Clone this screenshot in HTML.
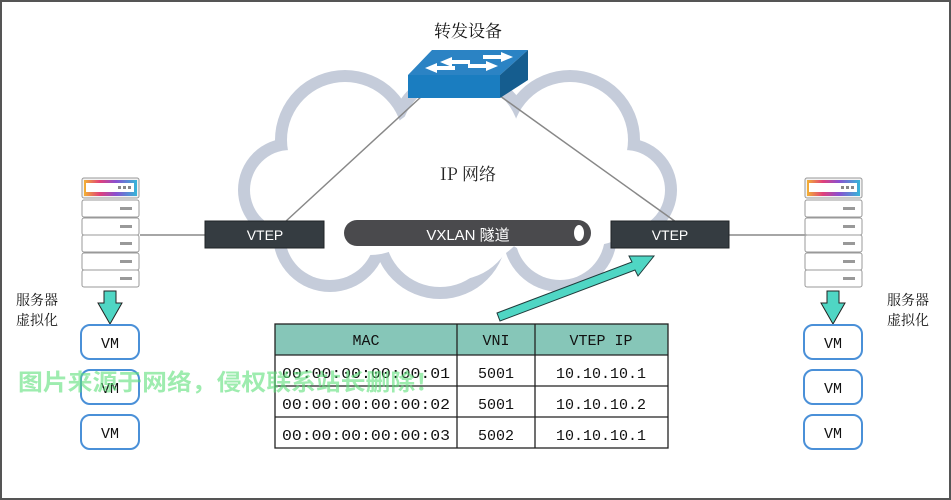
<!DOCTYPE html>
<html><head><meta charset="utf-8"><style>
body{margin:0;background:#fff}
svg{display:block}
.t{font-family:"Liberation Sans","Noto Sans CJK SC",sans-serif}
.s{font-family:"Noto Serif CJK SC","Liberation Serif",serif}
.m{font-family:"Liberation Mono","DejaVu Sans Mono",monospace}
</style></head><body>
<svg width="951" height="500" viewBox="0 0 951 500" xmlns="http://www.w3.org/2000/svg">
<rect x="1" y="1" width="949" height="498" fill="#fff" stroke="#555" stroke-width="2"/>
<!-- cloud -->
<g fill="#c5ccda">
<circle cx="345" cy="140" r="70"/><circle cx="290" cy="190" r="52"/><circle cx="330" cy="235" r="57"/>
<circle cx="440" cy="232" r="67"/><circle cx="560" cy="235" r="57"/><circle cx="625" cy="190" r="52"/>
<circle cx="570" cy="140" r="70"/><circle cx="460" cy="140" r="72"/>
</g>
<g fill="#fff">
<circle cx="345" cy="140" r="58"/><circle cx="290" cy="190" r="40"/><circle cx="330" cy="235" r="45"/>
<circle cx="440" cy="232" r="55"/><circle cx="560" cy="235" r="45"/><circle cx="625" cy="190" r="40"/>
<circle cx="570" cy="140" r="58"/><circle cx="460" cy="140" r="60"/><circle cx="455" cy="185" r="85"/>
<circle cx="370" cy="195" r="60"/><circle cx="545" cy="195" r="60"/><circle cx="455" cy="220" r="60"/>
<circle cx="320" cy="200" r="45"/><circle cx="595" cy="200" r="45"/>
</g>
<!-- lines -->
<g stroke="#888" stroke-width="1.5">
<line x1="422" y1="96" x2="285" y2="222"/><line x1="500" y1="96" x2="676" y2="222"/>
<line x1="140" y1="235" x2="205" y2="235"/><line x1="729" y1="235" x2="805" y2="235"/>
</g>
<!-- switch -->
<polygon points="408,75 432,50 528,50 500,75" fill="#2b83c4"/>
<polygon points="408,75 500,75 500,98 408,98" fill="#1a7dc0"/>
<polygon points="500,75 528,50 528,80 500,98" fill="#155d8f"/>
<g fill="#fff"><polygon points="440,62 452,57 452,60 470,60 470,64 452,64 452,67"/><polygon points="508,55 496,50 496,53 478,53 478,57 496,57 496,60" transform="translate(5,2)"/>
<polygon points="425,70 437,65 437,68 455,68 455,72 437,72 437,75" transform="translate(0,-2)"/><polygon points="498,66 486,61 486,64 468,64 468,68 486,68 486,71"/></g>
<text x="468" y="37" class="s" font-size="17" text-anchor="middle" fill="#111">转发设备</text>
<text x="468" y="180" class="s" font-size="17" text-anchor="middle" fill="#222">IP 网络</text>
<!-- VTEPs -->
<rect x="205" y="221" width="119" height="27" fill="#353c41" stroke="#1f2326"/>
<text x="265" y="240" class="t" font-size="14" fill="#fff" text-anchor="middle">VTEP</text>
<rect x="611" y="221" width="118" height="27" fill="#353c41" stroke="#1f2326"/>
<text x="670" y="240" class="t" font-size="14" fill="#fff" text-anchor="middle">VTEP</text>
<!-- tunnel -->
<rect x="344" y="220" width="247" height="26" rx="13" fill="#4a4a4d"/>
<ellipse cx="579" cy="233" rx="5" ry="8" fill="#fff"/>
<text x="468" y="240" class="t" font-size="15" fill="#fff" text-anchor="middle">VXLAN 隧道</text>
<!-- arrow to VTEP -->
<polygon points="497,313 632,262 629,256 654,256 638,276 635,270 500,321" fill="#4fd6c4" stroke="#1e3a3a" stroke-width="1"/>
<!-- servers -->
<g id="srv">
<rect x="82" y="178" width="57" height="20" rx="2" fill="#f3f3f3" stroke="#999"/>
<rect x="84" y="180" width="53" height="16" fill="url(#rb)"/>
<rect x="86" y="183" width="48" height="9" fill="#fff"/>
<g fill="#888"><rect x="118" y="186" width="3" height="3"/><rect x="123" y="186" width="3" height="3"/><rect x="128" y="186" width="3" height="3"/></g>
<g fill="#fff" stroke="#999">
<rect x="82" y="200" width="57" height="17" rx="2"/><rect x="82" y="218" width="57" height="17" rx="2"/>
<rect x="82" y="235" width="57" height="17" rx="2"/><rect x="82" y="253" width="57" height="17" rx="2"/><rect x="82" y="270" width="57" height="17" rx="2"/></g>
<g fill="#999"><rect x="120" y="207" width="12" height="3"/><rect x="120" y="225" width="12" height="3"/><rect x="120" y="242" width="12" height="3"/><rect x="120" y="260" width="12" height="3"/><rect x="120" y="277" width="12" height="3"/></g>
<polygon points="104,291 116,291 116,303 122,303 110,324 98,303 104,303" fill="#4fd6c4" stroke="#222"/>
<g fill="#fff" stroke="#4a90d8" stroke-width="2">
<rect x="81" y="325" width="58" height="34" rx="9"/><rect x="81" y="370" width="58" height="34" rx="9"/><rect x="81" y="415" width="58" height="34" rx="9"/></g>
<g class="m" font-size="15" fill="#111" text-anchor="middle"><text x="110" y="348">VM</text><text x="110" y="393">VM</text><text x="110" y="438">VM</text></g>
</g>
<use href="#srv" transform="translate(723,0)"/>
<defs><linearGradient id="rb" x1="0" x2="1"><stop offset="0" stop-color="#f2b233"/><stop offset="0.3" stop-color="#e0407a"/><stop offset="0.6" stop-color="#8a4fd0"/><stop offset="1" stop-color="#35b6d8"/></linearGradient></defs>
<g class="s" font-size="14" fill="#111">
<text x="16" y="305">服务器</text><text x="16" y="325">虚拟化</text>
<text x="887" y="305">服务器</text><text x="887" y="325">虚拟化</text></g>
<!-- table -->
<rect x="275" y="324" width="393" height="31" fill="#86c6b8"/>
<g stroke="#222" stroke-width="1.3" fill="none">
<rect x="275" y="324" width="393" height="124"/>
<line x1="275" y1="355" x2="668" y2="355"/><line x1="275" y1="386" x2="668" y2="386"/><line x1="275" y1="417" x2="668" y2="417"/>
<line x1="457" y1="324" x2="457" y2="448"/><line x1="535" y1="324" x2="535" y2="448"/></g>
<g class="m" font-size="15" fill="#111" text-anchor="middle">
<text x="366" y="345">MAC</text><text x="496" y="345">VNI</text><text x="601" y="345">VTEP IP</text>
<text x="282" y="378" text-anchor="start" textLength="168" lengthAdjust="spacingAndGlyphs">00:00:00:00:00:01</text><text x="496" y="378">5001</text><text x="601" y="378">10.10.10.1</text>
<text x="282" y="409" text-anchor="start" textLength="168" lengthAdjust="spacingAndGlyphs">00:00:00:00:00:02</text><text x="496" y="409">5001</text><text x="601" y="409">10.10.10.2</text>
<text x="282" y="440" text-anchor="start" textLength="168" lengthAdjust="spacingAndGlyphs">00:00:00:00:00:03</text><text x="496" y="440">5002</text><text x="601" y="440">10.10.10.1</text></g>
<text x="18" y="390" class="t" font-size="23" font-weight="bold" fill="#5ee07a" fill-opacity="0.6" textLength="422" lengthAdjust="spacingAndGlyphs">图片来源于网络，侵权联系站长删除！</text>
</svg>
</body></html>
